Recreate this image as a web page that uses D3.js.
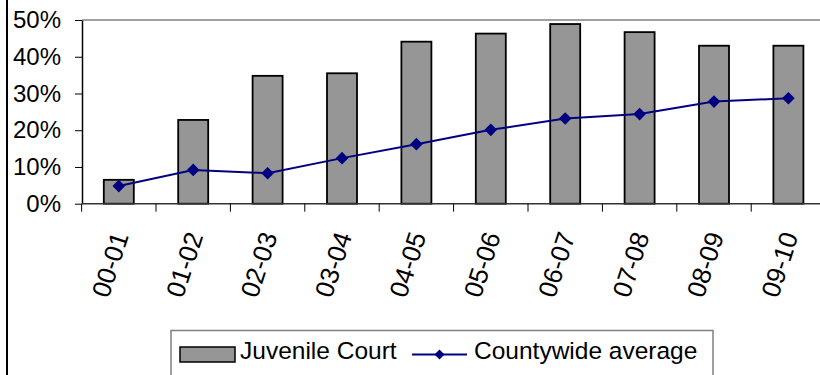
<!DOCTYPE html>
<html>
<head>
<meta charset="utf-8">
<script src="https://cdn.jsdelivr.net/npm/d3@7"></script>
<style>
  body { margin: 0; background: #fff; }
  svg { display: block; font-family: "Liberation Sans", Arial, sans-serif; }
</style>
</head>
<body>
<svg id="chart"></svg>
<script>
let years = ["00-01","01-02","02-03","03-04","04-05","05-06","06-07","07-08","08-09","09-10"]
let juvenile = [6.5, 22.8, 34.8, 35.5, 44.1, 46.3, 48.9, 46.7, 43.0, 43.0]
let countywide = [4.8, 9.2, 8.3, 12.4, 16.2, 20.1, 23.2, 24.4, 27.8, 28.7]
let yTicks = [0, 10, 20, 30, 40, 50]

let svg = d3.select('#chart')
    .attr('width', 820)
    .attr('height', 375)

// outer chart border (only left edge visible)
svg.append('line')
    .attr('x1', 7).attr('x2', 7)
    .attr('y1', 0).attr('y2', 375)
    .attr('stroke', '#000')
    .attr('stroke-width', 2)

let x = d3.scaleBand()
    .domain(years)
    .range([81.6, 81.6 + 74.4 * years.length])

let y = d3.scaleLinear()
    .domain([0, 50])
    .range([203.7, 20])

// top gridline at 50%
svg.append('line')
    .attr('x1', 82).attr('x2', 820)
    .attr('y1', y(50)).attr('y2', y(50))
    .attr('stroke', '#808080')
    .attr('stroke-width', 1.5)

// bars
svg.append('g')
    .selectAll('rect')
    .data(juvenile)
    .enter()
    .append('rect')
    .attr('x', function(d, i){ return x(years[i]) + x.bandwidth() / 2 - 15 })
    .attr('y', function(d){ return y(d) })
    .attr('width', 30)
    .attr('height', function(d){ return y(0) - y(d) })
    .attr('fill', '#969696')
    .attr('stroke', '#000')
    .attr('stroke-width', 1.8)

// y axis
let yAxis = svg.append('g')
    .attr('transform', 'translate(82,0)')
    .call(d3.axisLeft(y).tickValues(yTicks).tickSize(7).tickSizeOuter(0).tickFormat(function(d){ return d + '%' }))
yAxis.select('.domain').attr('stroke', '#000').attr('stroke-width', 1.5)
yAxis.selectAll('.tick line').attr('stroke', '#000')
yAxis.selectAll('.tick text')
    .attr('x', -21)
    .attr('font-size', 24)
    .attr('fill', '#000')
    .attr('font-family', '"Liberation Sans", Arial, sans-serif')

// x axis: ticks at category boundaries
let bounds = d3.range(years.length + 1).map(function(i){ return x.range()[0] + i * x.step() })
svg.append('line')
    .attr('x1', 82).attr('x2', 820)
    .attr('y1', y(0)).attr('y2', y(0))
    .attr('stroke', '#333')
    .attr('stroke-width', 1.5)
svg.append('g')
    .selectAll('line')
    .data(bounds)
    .enter()
    .append('line')
    .attr('x1', function(d){ return d }).attr('x2', function(d){ return d })
    .attr('y1', y(0)).attr('y2', y(0) + 8)
    .attr('stroke', '#000')

svg.append('g')
    .selectAll('text')
    .data(years)
    .enter()
    .append('text')
    .attr('transform', function(d){
        let cx = x(d) + x.bandwidth() / 2 + 1.5
        return 'translate(' + cx + ',233) rotate(-72)'
    })
    .attr('text-anchor', 'end')
    .attr('dy', '0.35em')
    .attr('font-size', 26)
    .text(function(d){ return d })

// countywide line
let line = d3.line()
    .x(function(d, i){ return x(years[i]) + x.bandwidth() / 2 })
    .y(function(d){ return y(d) })

svg.append('path')
    .datum(countywide)
    .attr('d', line)
    .attr('fill', 'none')
    .attr('stroke', '#000080')
    .attr('stroke-width', 2)

svg.append('g')
    .selectAll('path')
    .data(countywide)
    .enter()
    .append('path')
    .attr('d', d3.symbol().type(d3.symbolSquare).size(80))
    .attr('transform', function(d, i){ return 'translate(' + (x(years[i]) + x.bandwidth() / 2) + ',' + y(d) + ') rotate(45)' })
    .attr('fill', '#000080')

// legend
let legend = svg.append('g')
legend.append('rect')
    .attr('x', 171).attr('y', 330.5)
    .attr('width', 542).attr('height', 60)
    .attr('fill', '#fff')
    .attr('stroke', '#808080')
    .attr('stroke-width', 1.5)
legend.append('rect')
    .attr('x', 180).attr('y', 347)
    .attr('width', 55).attr('height', 15)
    .attr('fill', '#969696')
    .attr('stroke', '#000')
    .attr('stroke-width', 1.5)
legend.append('text')
    .attr('x', 240).attr('y', 359)
    .attr('font-size', 24.5)
    .text('Juvenile Court')
legend.append('line')
    .attr('x1', 412).attr('x2', 467)
    .attr('y1', 354.5).attr('y2', 354.5)
    .attr('stroke', '#000080')
    .attr('stroke-width', 2)
legend.append('path')
    .attr('d', d3.symbol().type(d3.symbolSquare).size(50))
    .attr('transform', 'translate(439.5,354.5) rotate(45)')
    .attr('fill', '#000080')
legend.append('text')
    .attr('x', 474).attr('y', 359)
    .attr('font-size', 24.5)
    .text('Countywide average')
</script>
</body>
</html>
